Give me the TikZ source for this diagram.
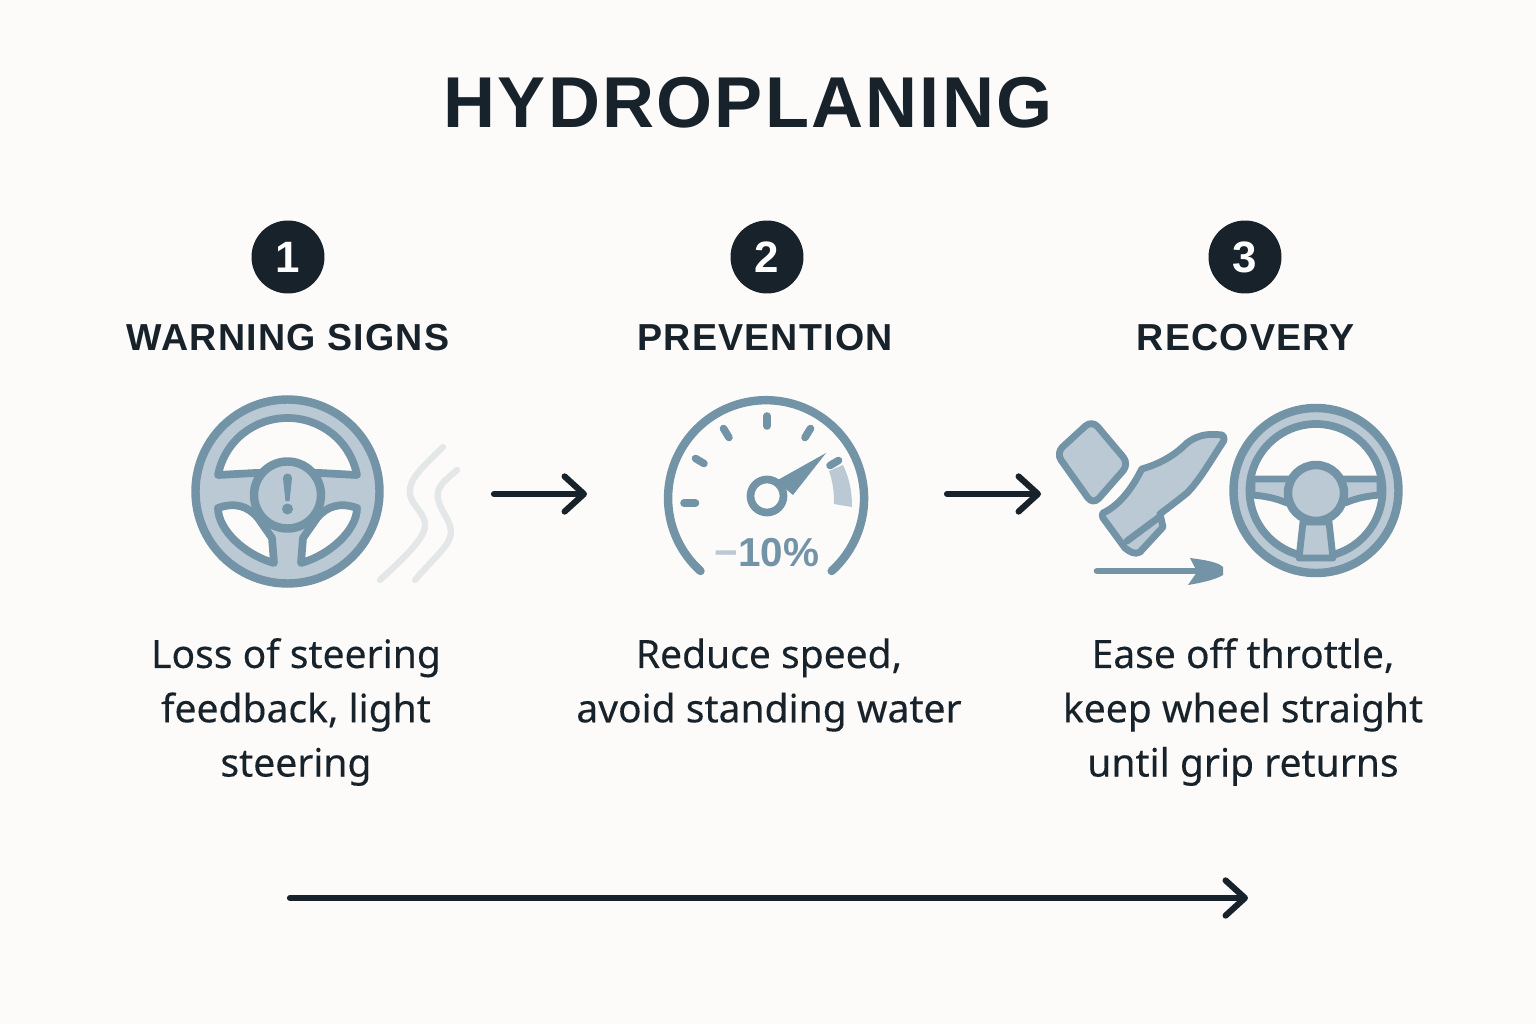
\documentclass[tikz,border=0pt]{standalone}
\usepackage{fontspec}
\setmainfont{Noto Sans}
\newfontfamily\bodyfont[FakeBold=0.25]{Noto Sans}
\newfontfamily\headfont[LetterSpace=3.2]{Liberation Sans}
\newfontfamily\titlefont[LetterSpace=3.1]{Liberation Sans}
\newfontfamily\badgefont{Liberation Sans}
\usetikzlibrary{arrows.meta}
\definecolor{pagebg}{HTML}{FCFBF9}
\definecolor{inkdark}{HTML}{17222B}
\definecolor{wheelblue}{HTML}{7393A7}
\definecolor{wheelfill}{HTML}{BAC9D3}
\definecolor{wavegrey}{HTML}{E3E7E8}
\tikzset{
  badge/.style={circle,fill=inkdark,text=white,minimum size=1.46cm,inner sep=0pt,font=\fontsize{25}{25}\selectfont\badgefont\bfseries},
  heading/.style={text=inkdark,inner sep=0pt,font=\fontsize{21.4}{21.4}\selectfont\headfont\bfseries},
  bodytext/.style={text=inkdark,inner sep=0pt,align=center,font=\fontsize{22.2}{30.9}\selectfont\bodyfont},
  stepflow/.style={draw=inkdark,line width=3.5pt,line cap=round,-{Straight Barb[length=11pt,width=20pt,round]}},
  iconline/.style={draw=wheelblue,line width=4.8pt,line join=round,line cap=round},
  iconfill/.style={iconline,fill=wheelfill},
  iconhole/.style={iconline,fill=pagebg,line width=4.4pt},
  gaugetick/.style={iconline,line width=4.3pt},
  thinline/.style={draw=wheelblue,line width=3.9pt,line join=round,line cap=round,fill=wheelfill},
  wave/.style={draw=wavegrey,line width=3.6pt,line cap=round}
}
\begin{document}
\begin{tikzpicture}[x=0.02cm,y=0.02cm]
\useasboundingbox (0,0) rectangle (1536,-1024);
\fill [pagebg] (0,0) rectangle (1536,-1024);
\node [text=inkdark,inner sep=0pt,font=\fontsize{41}{41}\selectfont\titlefont\bfseries] (title) at (748,-103) {HYDROPLANING};
\node [badge] (badgeone) at (288,-257) {1};
\node [badge] (badgetwo) at (767,-257) {2};
\node [badge] (badgethree) at (1245,-257) {3};
\node [heading] (signs) at (288,-338) {WARNING SIGNS};
\node [heading] (prevention) at (765,-338) {PREVENTION};
\node [heading] (recovery) at (1246,-338) {RECOVERY};
\node [bodytext] (signstext) at (296,-712) {Loss of steering\\feedback, light\\steering};
\node [bodytext,anchor=north] (preventiontext) at (769,-638) {Reduce speed,\\avoid standing water};
\node [bodytext] (recoverytext) at (1243,-712) {Ease off throttle,\\keep wheel straight\\until grip returns};
\draw [iconfill] (287.5,-491.5) circle (92);
\draw [iconhole] (218,-475) .. controls (225,-440) and (255,-418) .. (287.5,-418) .. controls (320,-418) and (350,-440) .. (357,-475) -- (320,-473) -- (255,-473) -- cycle;
\draw [iconhole] (218,-508) .. controls (235,-502) and (248,-506) .. (258,-518) -- (272,-538) -- (274,-563) .. controls (245,-555) and (218,-530) .. (218,-508) -- cycle;
\draw [iconhole] (357,-508) .. controls (340,-502) and (327,-506) .. (317,-518) -- (303,-538) -- (301,-563) .. controls (330,-555) and (357,-530) .. (357,-508) -- cycle;
\draw [iconfill] (287.5,-495) circle (33.5);
\fill [wheelblue] (283,-478) arc (180:0:4.5) -- (289.5,-501) -- (285.5,-501) -- cycle;
\fill [wheelblue] (287.5,-509) circle (5.5);
\draw [wave] (443,-447) .. controls (420,-470) and (400,-485) .. (415,-505) .. controls (430,-525) and (435,-530) .. (380,-580);
\draw [wave] (457,-470) .. controls (440,-485) and (430,-490) .. (445,-515) .. controls (460,-540) and (445,-545) .. (415,-580);
\draw [iconline] (700.5,-571) arc (228:-48:98);
\draw [gaugetick] (684,-503) -- (695.5,-503);
\draw [gaugetick] (695.5,-458.5) -- (704,-463.5);
\draw [gaugetick] (723.5,-428.5) -- (729,-437.5);
\draw [gaugetick] (767,-416) -- (767,-426);
\draw [gaugetick] (810.5,-428.5) -- (805,-437.5);
\draw [gaugetick] (838.5,-460.5) -- (830,-465.5);
\fill [wheelfill] (829,-471) -- (843,-465) .. controls (850,-480) and (852,-492) .. (852,-507) -- (834,-504) .. controls (834,-492) and (833,-482) .. (829,-471) -- cycle;
\fill [wheelblue] (826,-453) -- (776,-481) -- (793,-495) -- cycle;
\draw [iconhole] (767,-496) circle (16.5);
\node [text=wheelblue,inner sep=0pt,font=\fontsize{23}{23}\selectfont\badgefont\bfseries] (speedcut) at (767,-553) {{\color{wheelfill}−}10\%};
\draw [thinline,rounded corners=5pt] (1092,-420) -- (1129,-464) -- (1093,-505) -- (1056,-453) -- cycle;
\draw [thinline] (1141.7,-469) .. controls (1163,-463) and (1177,-453) .. (1187,-443) .. controls (1200,-433) and (1212,-434) .. (1222,-435) .. controls (1225,-437) and (1224,-441) .. (1223,-442) .. controls (1213,-457) and (1200,-480) .. (1187,-493) .. controls (1172,-505) and (1165,-510) .. (1160,-514) -- (1163,-527) -- (1140,-552) .. controls (1135,-555) and (1130,-552) .. (1125,-548) -- (1103,-518) .. controls (1102,-516) and (1102,-514) .. (1103,-513) .. controls (1120,-505) and (1133,-487) .. (1141.7,-469) -- cycle;
\draw [thinline] (1127,-541) -- (1158,-518);
\draw [draw=wheelblue,line width=3.8pt,line cap=round] (1097,-571) -- (1195,-571);
\fill [wheelblue] (1190,-558) .. controls (1205,-560) and (1218,-562) .. (1223,-567) -- (1223,-575) .. controls (1215,-580) and (1200,-583) .. (1188,-585) -- (1197,-572) -- cycle;
\draw [iconfill] (1316,-490.5) circle (82.5);
\draw [iconhole] (1316,-490.5) circle (66.5);
\draw [thinline] (1252,-479) -- (1290,-479) -- (1287,-503) .. controls (1275,-498) and (1265,-496) .. (1252,-495) -- cycle;
\draw [thinline] (1380,-479) -- (1342,-479) -- (1345,-503) .. controls (1357,-498) and (1367,-496) .. (1380,-495) -- cycle;
\draw [thinline] (1303,-522) -- (1329,-522) -- (1333,-558) -- (1299,-558) -- cycle;
\draw [iconfill] (1316,-493) circle (28);
\coordinate (signsout) at (494,-494);
\coordinate (preventionin) at (587,-494);
\coordinate (preventionout) at (947,-494);
\coordinate (recoveryin) at (1041,-494);
\coordinate (timelinestart) at (290,-898);
\coordinate (timelineend) at (1248,-898);
\draw [stepflow] (signsout) -- (preventionin);
\draw [stepflow] (preventionout) -- (recoveryin);
\draw [stepflow] (timelinestart) -- (timelineend);
\end{tikzpicture}
\end{document}
